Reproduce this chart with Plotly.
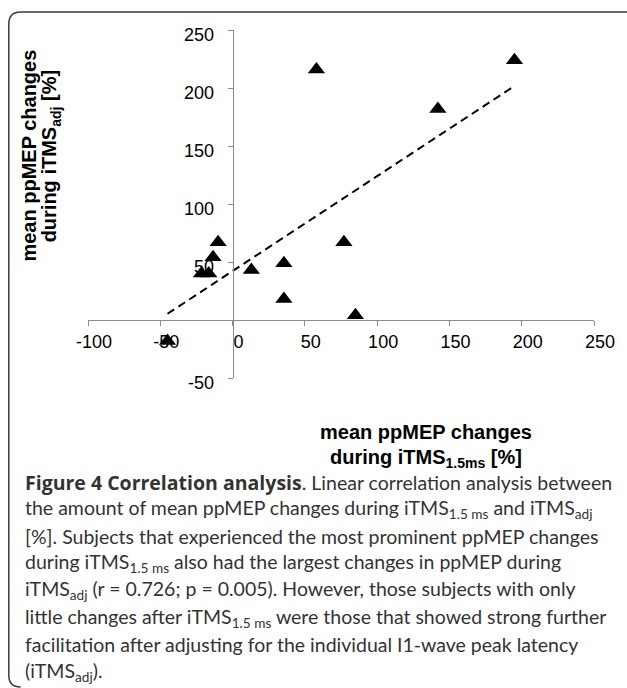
import numpy as np
import plotly.graph_objects as go

# ---- data ----
itms_15 = [58, 195, 142, 77, -10, -13.5, -21.5, -16.5, 13, 35.5, 35.5, 85, -45]
itms_adj = [216, 224, 182, 67, 67, 54, 40, 40, 43, 49, 18, 4, -18]
x_ticks = [-100, -50, 0, 50, 100, 150, 200, 250]
y_ticks = [-50, 50, 100, 150, 200, 250]
x_range = [-100, 250]
y_range = [-50, 250]

x_title = ["mean ppMEP changes", "during iTMS<sub>1.5ms</sub> [%]"]
y_title = ["mean ppMEP changes", "during iTMS<sub>adj</sub> [%]"]
BOLD = "<span style='font-family:Open Sans'><b>Figure 4 Correlation analysis</b></span>"
caption = [
    BOLD + ". Linear correlation analysis between",
    "the amount of mean ppMEP changes during iTMS<sub>1.5 ms</sub> and iTMS<sub>adj</sub>",
    "[%]. Subjects that experienced the most prominent ppMEP changes",
    "during iTMS<sub>1.5 ms</sub> also had the largest changes in ppMEP during",
    "iTMS<sub>adj</sub> (r = 0.726; p = 0.005). However, those subjects with only",
    "little changes after iTMS<sub>1.5 ms</sub> were those that showed strong further",
    "facilitation after adjusting for the individual I1-wave peak latency",
    "(iTMS<sub>adj</sub>).",
]

# ---- layout geometry ----
WIDTH, HEIGHT = 627, 688
L, R, T, B = 88, 28, 30, 310
PW = WIDTH - L - R
PH = HEIGHT - T - B


def px_x(px):
    return (px - L) / PW


def px_y(py):
    return (T + PH - py) / PH


# linear regression trendline (Excel-like, spanning the data)
slope, intercept = np.polyfit(itms_15, itms_adj, 1)
tx = [min(itms_15), max(itms_15)]
ty = [slope * v + intercept for v in tx]

fig = go.Figure()
fig.add_trace(go.Scatter(
    x=tx, y=ty, mode="lines",
    line=dict(color="black", width=2, dash="8px,5px"),
    hoverinfo="skip", showlegend=False,
))
fig.add_trace(go.Scatter(
    x=itms_15, y=itms_adj, mode="markers",
    marker=dict(symbol="triangle-up", size=15, color="black"),
    showlegend=False,
))

x_zero = (0 - x_range[0]) / (x_range[1] - x_range[0])
y_zero = (0 - y_range[0]) / (y_range[1] - y_range[0])

tick_font = dict(family="Liberation Sans, Arial, sans-serif", size=18, color="black")

fig.update_xaxes(
    range=x_range, tickvals=x_ticks, ticktext=[str(v) for v in x_ticks],
    anchor="free", position=y_zero,
    showline=True, linecolor="#8c8c8c", linewidth=1,
    ticks="outside", ticklen=5, tickcolor="#8c8c8c",
    ticklabelshift=6,
    showgrid=False, zeroline=False, tickfont=tick_font,
)
fig.update_yaxes(
    range=y_range, tickvals=y_ticks, ticktext=[str(v) for v in y_ticks],
    anchor="free", position=x_zero,
    showline=True, linecolor="#8c8c8c", linewidth=1,
    ticks="outside", ticklen=5, tickcolor="#8c8c8c",
    ticklabelshift=5, ticklabelstandoff=10,
    showgrid=False, zeroline=False, tickfont=tick_font,
)

annotations = []
title_font = dict(family="Liberation Sans, Arial, sans-serif", size=20, color="black")
for i, line in enumerate(x_title):
    annotations.append(dict(
        x=px_x(429), y=px_y(432 + 26 * i), xref="paper", yref="paper",
        text="<b>" + line + "</b>", showarrow=False,
        xanchor="center", yanchor="middle", font=title_font,
    ))
for i, line in enumerate(y_title):
    annotations.append(dict(
        x=px_x(28 + 22 * i), y=px_y(156), xref="paper", yref="paper",
        text="<b>" + line + "</b>", showarrow=False, textangle=-90,
        xanchor="center", yanchor="middle", font=title_font,
    ))
cap_font = dict(family="Lato, Open Sans, sans-serif", size=19.5, color="#333333")
for i, line in enumerate(caption):
    annotations.append(dict(
        x=px_x(22), y=px_y(482 + 27.1 * i), xref="paper", yref="paper",
        text=line, showarrow=False, align="left",
        xanchor="left", yanchor="middle", font=cap_font,
    ))

# rounded frame around the figure (extends off the right edge)
r = 12
fx0, fy0, fx1, fy1 = 8, 12, 650, 687
path = (
    f"M {px_x(fx0 + r)},{px_y(fy1)} "
    f"Q {px_x(fx0)},{px_y(fy1)} {px_x(fx0)},{px_y(fy1 - r)} "
    f"L {px_x(fx0)},{px_y(fy0 + r)} "
    f"Q {px_x(fx0)},{px_y(fy0)} {px_x(fx0 + r)},{px_y(fy0)} "
    f"L {px_x(fx1 - r)},{px_y(fy0)} "
    f"Q {px_x(fx1)},{px_y(fy0)} {px_x(fx1)},{px_y(fy0 + r)}"
)
fig.add_shape(type="path", path=path, xref="paper", yref="paper",
              line=dict(color="#3c3c3c", width=1.5))

fig.update_layout(
    width=WIDTH, height=HEIGHT, autosize=False,
    margin=dict(l=L, r=R, t=T, b=B),
    paper_bgcolor="white", plot_bgcolor="white",
    annotations=annotations,
    showlegend=False,
)

fig.write_html(
    "out.html",
    config={"displayModeBar": False},
    post_script="document.body.style.margin='0';document.body.style.overflow='hidden';",
)
